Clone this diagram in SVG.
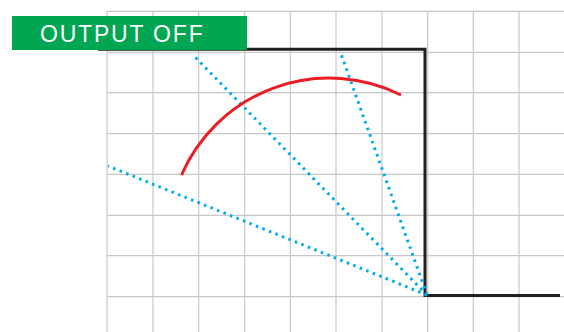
<svg xmlns="http://www.w3.org/2000/svg" width="564" height="332" viewBox="0 0 564 332">
<style>
.grid line{stroke:#c8c8c8;stroke-width:1.2}
.ray{stroke:#00aeef;stroke-width:3;stroke-dasharray:2.6 4.4;fill:none}
.label{font-family:"Liberation Sans",Arial,sans-serif;font-size:23px;fill:#fff;letter-spacing:1.8px}
</style>
<rect width="564" height="332" fill="#fff"/>
<g id="grid" class="grid">
<line x1="107" y1="11" x2="107" y2="332"/>
<line x1="153" y1="11" x2="153" y2="332"/>
<line x1="198.7" y1="11" x2="198.7" y2="332"/>
<line x1="244.7" y1="11" x2="244.7" y2="332"/>
<line x1="290.3" y1="11" x2="290.3" y2="332"/>
<line x1="336" y1="11" x2="336" y2="332"/>
<line x1="382" y1="11" x2="382" y2="332"/>
<line x1="427.7" y1="11" x2="427.7" y2="332"/>
<line x1="473.3" y1="11" x2="473.3" y2="332"/>
<line x1="519" y1="11" x2="519" y2="332"/>
<line x1="107" y1="11.3" x2="564" y2="11.3"/>
<line x1="107" y1="52.3" x2="564" y2="52.3"/>
<line x1="107" y1="92.7" x2="564" y2="92.7"/>
<line x1="107" y1="133.7" x2="564" y2="133.7"/>
<line x1="107" y1="174.3" x2="564" y2="174.3"/>
<line x1="107" y1="215.3" x2="564" y2="215.3"/>
<line x1="107" y1="255.7" x2="564" y2="255.7"/>
<line x1="107" y1="296.7" x2="564" y2="296.7"/>
</g>
<g id="connectors">
<path id="output-line" d="M98,49.3 H425 V295.5 H560" fill="none" stroke="#231f20" stroke-width="3"/>
<line class="ray" x1="427" y1="295" x2="108" y2="166"/>
<line class="ray" x1="427" y1="295" x2="195" y2="57"/>
<line class="ray" x1="427" y1="295" x2="340" y2="51"/>
<path id="arc" d="M181.5,175 A161,161 0 0,1 401,95" fill="none" stroke="#ed1c24" stroke-width="3"/>
</g>
<g id="label">
<rect x="12" y="16" width="235" height="34" fill="#00a651"/>
<text class="label" x="40" y="41.5">OUTPUT OFF</text>
</g>
</svg>
